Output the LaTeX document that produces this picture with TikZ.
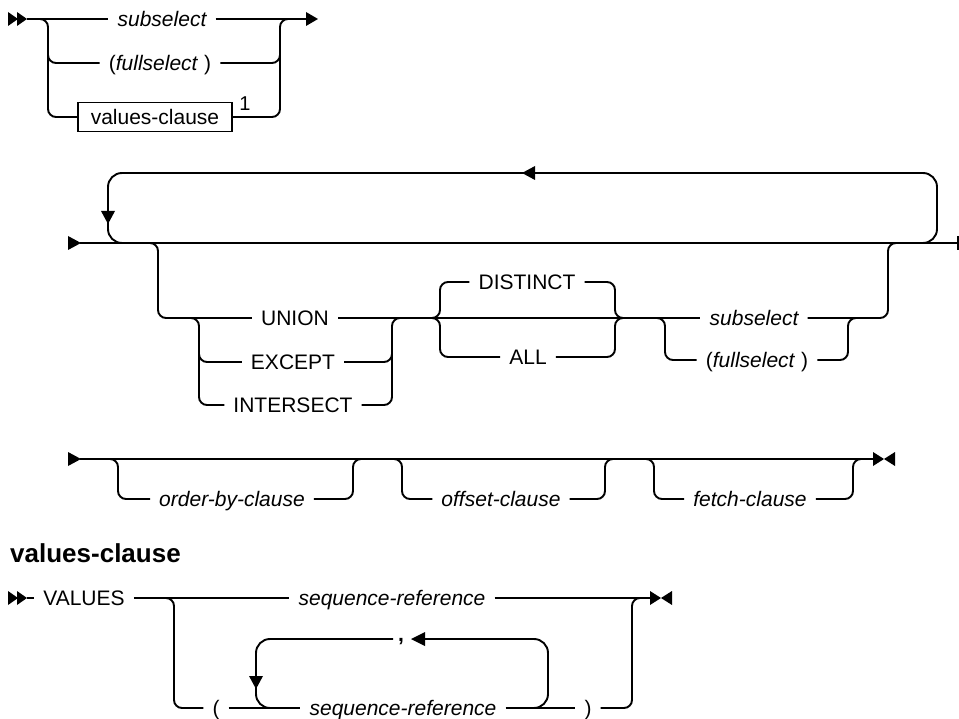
\documentclass[tikz,border=0pt]{standalone}
\usepackage{fontspec}
\setmainfont{Liberation Sans}
\begin{document}
\begin{tikzpicture}[x=1pt,y=-1pt,
  rr/.style={line width=1.9pt, rounded corners=8pt},
  loopline/.style={line width=1.9pt, rounded corners=14pt},
  lbl/.style={font=\fontsize{21}{25}\selectfont, inner xsep=9pt, inner ysep=0pt, text height=15pt, text depth=0pt},
  ilbl/.style={lbl, font=\fontsize{21}{25}\selectfont\itshape},
  tipfill/.style={fill=black}]
\useasboundingbox (0,0) rectangle (959,719);

% ---------- Section 1 ----------
\fill[tipfill] (8,12) -- (18,19) -- (8,26) -- cycle;
\fill[tipfill] (17,12) -- (27,19) -- (17,26) -- cycle;
\coordinate (a0) at (27,19);
\coordinate (a1) at (308,19);
\node[ilbl] (sub1) at (162,19) {subselect};
\node[lbl] (full1) at (160,63) {(\textit{fullselect} )};
\node[draw, line width=1.3pt, minimum width=154pt, minimum height=29pt, inner sep=0pt,
      font=\fontsize{21}{25}\selectfont] (vcbox) at (155,117) {values-clause};
\node[font=\fontsize{20}{24}\selectfont, inner sep=0pt] (fn1) at (245,104) {1};
\draw[rr] (a0) -- (sub1.west);
\draw[rr] (sub1.east) -- (a1);
\fill[tipfill] (306,12) -- (318,19) -- (306,26) -- cycle;
\draw[rr] (40,19) -- (48,19) -- (48,117) -- (vcbox.west);
\draw[rr] (48,40) -- (48,63) -- (full1.west);
\draw[rr] (vcbox.east) -- (280,117) -- (280,19) -- (288,19);
\draw[rr] (full1.east) -- (280,63) -- (280,40);

% ---------- Section 2 ----------
\fill[tipfill] (68,236) -- (81,243) -- (68,250) -- cycle;
\draw[rr] (80,243) -- (958,243);
\draw[line width=1.9pt] (958,236) -- (958,250);
\draw[loopline] (132,243) -- (108,243) -- (108,173) -- (937,173) -- (937,243) -- (913,243);
\fill[tipfill] (522,173) -- (535,166) -- (535,180) -- cycle;
\fill[tipfill] (108,224) -- (101,211) -- (115,211) -- cycle;

\node[lbl] (union) at (295,318) {UNION};
\node[lbl] (except) at (293,362) {EXCEPT};
\node[lbl] (inter) at (293,405) {INTERSECT};
\node[lbl] (distinct) at (527,282) {DISTINCT};
\node[lbl] (all) at (528,357) {ALL};
\node[ilbl] (sub2) at (754,318) {subselect};
\node[lbl] (full2) at (757,360) {(\textit{fullselect} )};

\draw[rr] (150,243) -- (158,243) -- (158,318) -- (union.west);
\draw[rr] (union.east) -- (sub2.west);
\draw[rr] (191,318) -- (199,318) -- (199,405) -- (inter.west);
\draw[rr] (199,340) -- (199,362) -- (except.west);
\draw[rr] (inter.east) -- (392,405) -- (392,318) -- (400,318);
\draw[rr] (except.east) -- (392,362) -- (392,340);
\draw[rr] (432,318) -- (440,318) -- (440,282) -- (distinct.west);
\draw[rr] (432,318) -- (440,318) -- (440,357) -- (all.west);
\draw[rr] (distinct.east) -- (615,282) -- (615,318) -- (623,318);
\draw[rr] (all.east) -- (615,357) -- (615,318) -- (623,318);
\draw[rr] (657,318) -- (665,318) -- (665,360) -- (full2.west);
\draw[rr] (full2.east) -- (848,360) -- (848,318) -- (856,318);
\draw[rr] (sub2.east) -- (888,318) -- (888,243) -- (896,243);

% ---------- Section 3 ----------
\fill[tipfill] (68,452) -- (81,459) -- (68,466) -- cycle;
\draw[rr] (80,459) -- (873,459);
\fill[tipfill] (873,452) -- (884,459) -- (873,466) -- cycle;
\fill[tipfill] (895,452) -- (884,459) -- (895,466) -- cycle;
\node[ilbl] (order) at (232,499) {order-by-clause};
\node[ilbl] (offset) at (501,499) {offset-clause};
\node[ilbl] (fetch) at (750,499) {fetch-clause};
\draw[rr] (110,459) -- (118,459) -- (118,499) -- (order.west);
\draw[rr] (order.east) -- (353,499) -- (353,459) -- (361,459);
\draw[rr] (394,459) -- (402,459) -- (402,499) -- (offset.west);
\draw[rr] (offset.east) -- (605,499) -- (605,459) -- (613,459);
\draw[rr] (646,459) -- (654,459) -- (654,499) -- (fetch.west);
\draw[rr] (fetch.east) -- (853,499) -- (853,459) -- (861,459);

% ---------- Section 4 ----------
\node[font=\fontsize{26}{31}\selectfont\bfseries, anchor=west, inner sep=0pt] (head) at (10,553) {values-clause};
\fill[tipfill] (8,591) -- (18,598) -- (8,605) -- cycle;
\fill[tipfill] (17,591) -- (27,598) -- (17,605) -- cycle;
\node[lbl] (values) at (84,598) {VALUES};
\node[ilbl] (seq1) at (392,598) {sequence-reference};
\draw[rr] (27,598) -- (values.west);
\draw[rr] (values.east) -- (seq1.west);
\draw[rr] (seq1.east) -- (650,598);
\fill[tipfill] (650,591) -- (661,598) -- (650,605) -- cycle;
\fill[tipfill] (672,591) -- (661,598) -- (672,605) -- cycle;

\node[lbl] (lp) at (216,708) {(};
\node[ilbl] (seq2) at (403,708) {sequence-reference};
\node[lbl] (rp) at (588,708) {)};
\node[lbl, inner xsep=2pt, font=\fontsize{21}{25}\selectfont\bfseries] (comma) at (401,634) {,};
\draw[rr] (166,598) -- (174,598) -- (174,708) -- (lp.west);
\draw[rr] (lp.east) -- (seq2.west);
\draw[rr] (seq2.east) -- (rp.west);
\draw[rr] (rp.east) -- (632,708) -- (632,598) -- (640,598);
\draw[loopline] (272,708) -- (256,708) -- (256,639) -- (393,639);
\draw[loopline] (532,708) -- (548,708) -- (548,639) -- (420,639);
\fill[tipfill] (411,639) -- (425,632) -- (425,646) -- cycle;
\fill[tipfill] (256,689) -- (249,676) -- (263,676) -- cycle;
\end{tikzpicture}
\end{document}
